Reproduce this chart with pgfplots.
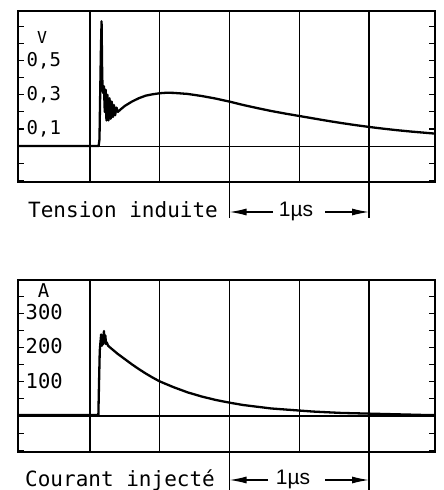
\documentclass[border=0pt]{standalone}
\usepackage{pgfplots}
\pgfplotsset{compat=1.18}
\usepackage{fontspec}
\setmainfont{DejaVu Sans Mono}
\newfontfamily\usfont{Liberation Sans}
\usetikzlibrary{arrows.meta}

\pgfplotsset{scopeframe/.style={
  scale only axis, width=417bp,
  xmin=-0.016, xmax=2.973,
  xtick={0.5,1,1.5,2,2.5}, xticklabels={},
  xmajorgrids, xtick style={draw=none},
  yticklabels={}, tick align=inside, major tick length=6bp,
  axis line style={line width=1.3bp},
  grid style={line width=1.3bp, black},
  ytick style={black, line width=1.1bp},
  clip=false,
}}

\begin{document}
\begin{tikzpicture}
\useasboundingbox (0,0) rectangle (444bp,490bp);

% Tension induite
\begin{axis}[scopeframe, at={(18bp,308bp)}, anchor=south west, height=171bp,
  ymin=-0.21, ymax=0.79,
  ytick={-0.2,-0.1,0,0.1,0.2,0.3,0.4,0.5,0.6,0.7}]
\draw[line width=1.1bp] (axis cs:-0.016,0) -- (axis cs:2.973,0);
\addplot[black, line width=2.3bp, line join=round] coordinates {
 (-0.016,0) (0.562,0) (0.568,0.04) (0.572,0.25) (0.578,0.55) (0.583,0.73)
 (0.587,0.45) (0.590,0.33) (0.595,0.31) (0.600,0.35) (0.606,0.20) (0.612,0.33)
 (0.618,0.15) (0.625,0.30) (0.632,0.15) (0.640,0.28) (0.648,0.16) (0.656,0.26)
 (0.664,0.17) (0.672,0.24) (0.680,0.18) (0.690,0.225) (0.70,0.20) (0.72,0.215)
 (0.75,0.235) (0.80,0.26) (0.85,0.28) (0.90,0.295)
 (0.95,0.303) (1.0,0.309) (1.05,0.312) (1.10,0.311) (1.2,0.305) (1.3,0.293)
 (1.4,0.278) (1.5,0.26) (1.6,0.24) (1.7,0.222) (1.8,0.205) (1.9,0.19)
 (2.0,0.176) (2.1,0.162) (2.2,0.148) (2.3,0.135) (2.4,0.123) (2.5,0.112)
 (2.6,0.102) (2.7,0.093) (2.8,0.085) (2.9,0.078) (2.973,0.073)
};
\node[anchor=west, font=\fontsize{19bp}{21bp}\selectfont, inner sep=0pt] at ([xshift=8.5bp]axis cs:-0.016,0.5) {0,5};
\node[anchor=west, font=\fontsize{19bp}{21bp}\selectfont, inner sep=0pt] at ([xshift=8.5bp]axis cs:-0.016,0.3) {0,3};
\node[anchor=west, font=\fontsize{19bp}{21bp}\selectfont, inner sep=0pt] at ([xshift=8.5bp]axis cs:-0.016,0.1) {0,1};
\node[font=\fontsize{16.5bp}{18bp}\selectfont, inner sep=0pt] at (axis cs:0.156,0.637) {V};
\end{axis}

% Courant injecte
\begin{axis}[scopeframe, at={(18bp,38bp)}, anchor=south west, height=172bp,
  ymin=-105, ymax=397,
  ytick={-100,-50,0,50,100,150,200,250,300,350}]
\draw[line width=1.1bp] (axis cs:-0.016,0) -- (axis cs:2.973,0);
\addplot[black, line width=2.3bp, line join=round] coordinates {
 (-0.016,3) (0.56,3) (0.565,100) (0.57,190) (0.575,215) (0.58,238) (0.585,205)
 (0.59,225) (0.595,210) (0.60,248) (0.605,215) (0.61,235) (0.615,210) (0.62,215)
 (0.63,205) (0.65,198) (0.7,181) (0.75,166) (0.8,151) (0.85,137) (0.9,124)
 (0.95,112) (1.0,101) (1.1,84) (1.2,69) (1.3,57) (1.4,47) (1.5,39) (1.6,32)
 (1.7,27) (1.8,22) (1.9,19) (2.0,16) (2.1,13) (2.2,11) (2.3,9) (2.4,8)
 (2.5,7) (2.6,6) (2.7,5) (2.8,4) (2.9,3) (2.973,3)
};
\node[anchor=west, font=\fontsize{20.5bp}{22bp}\selectfont, inner sep=0pt] at ([xshift=7.5bp,yshift=1bp]axis cs:-0.016,300) {300};
\node[anchor=west, font=\fontsize{20.5bp}{22bp}\selectfont, inner sep=0pt] at ([xshift=7.5bp,yshift=1bp]axis cs:-0.016,200) {200};
\node[anchor=west, font=\fontsize{20.5bp}{22bp}\selectfont, inner sep=0pt] at ([xshift=7.5bp,yshift=1bp]axis cs:-0.016,100) {100};
\node[font=\fontsize{19bp}{21bp}\selectfont, inner sep=0pt] at (axis cs:0.168,366) {A};
\end{axis}

% time-scale marks below the frames
\draw[line width=1.2bp] (229.5bp,308bp) -- (229.5bp,272bp);
\draw[line width=1.2bp] (369bp,308bp) -- (369bp,272bp);
\draw[line width=1.2bp, -{Latex[length=17bp,width=7bp]}] (273bp,278bp) -- (229.5bp,278bp);
\draw[line width=1.2bp, -{Latex[length=17bp,width=7bp]}] (325bp,278bp) -- (369bp,278bp);
\node[font=\usfont\fontsize{21bp}{23bp}\selectfont, inner sep=0pt] at (296bp,279bp) {1µs};
\node[anchor=base west, font=\fontsize{21bp}{23bp}\selectfont, inner sep=0pt] at (28bp,272bp) {Tension induite};

\draw[line width=1.2bp] (229.5bp,38bp) -- (229.5bp,0bp);
\draw[line width=1.2bp] (369bp,38bp) -- (369bp,0bp);
\draw[line width=1.2bp, -{Latex[length=17bp,width=7bp]}] (268bp,10bp) -- (229.5bp,10bp);
\draw[line width=1.2bp, -{Latex[length=17bp,width=7bp]}] (325bp,10bp) -- (369bp,10bp);
\node[font=\usfont\fontsize{21bp}{23bp}\selectfont, inner sep=0pt] at (293bp,11bp) {1µs};
\node[anchor=base west, font=\fontsize{21bp}{23bp}\selectfont, inner sep=0pt] at (25bp,4bp) {Courant injecté};
\end{tikzpicture}
\end{document}
